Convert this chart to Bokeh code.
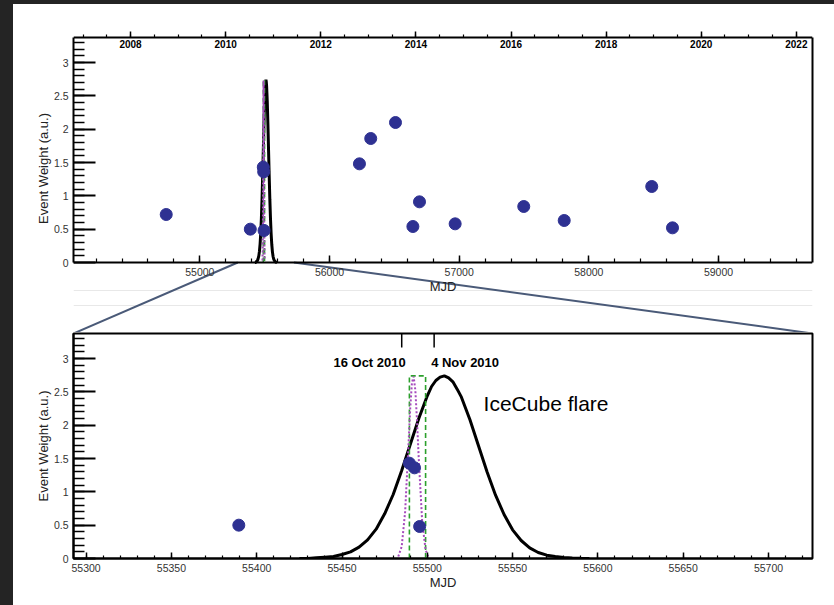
from bokeh.plotting import figure
from bokeh.models import Range1d, LinearAxis, FixedTicker, Label, Spacer
from bokeh.layouts import column, row
from bokeh.embed import file_html
from bokeh.resources import INLINE

# ---------------- data ----------------
event_mjd = [54741, 55389.5, 55489.5, 55492.5, 55495.5, 56231, 56318, 56509,
             56643, 56694, 56969, 57498, 57810, 58485, 58645]
event_weight = [0.72, 0.50, 1.43, 1.36, 0.48, 1.48, 1.86, 2.10,
                0.54, 0.91, 0.58, 0.84, 0.63, 1.14, 0.52]

flare_mjd = [55425, 55430, 55435, 55440, 55445, 55450, 55455, 55460, 55465, 55470,
             55475, 55480, 55485, 55490, 55495, 55500, 55502.5, 55505, 55507.5, 55510,
             55512.5, 55515, 55517.5, 55520, 55525, 55530, 55535, 55540, 55545, 55550,
             55555, 55560, 55565, 55570, 55575, 55580, 55585, 55590, 55595]
flare_weight = [0.00, 0.00, 0.01, 0.02, 0.03, 0.06, 0.10, 0.17, 0.28, 0.44,
                0.67, 0.96, 1.32, 1.71, 2.10, 2.44, 2.58, 2.67, 2.72, 2.74,
                2.71, 2.65, 2.54, 2.42, 2.08, 1.69, 1.30, 0.95, 0.66, 0.43,
                0.27, 0.16, 0.09, 0.05, 0.03, 0.015, 0.007, 0.003, 0.00]

dotted_mjd = [55483, 55485, 55487, 55489, 55490, 55491, 55492, 55493, 55494,
              55495, 55497, 55499, 55500.5]
dotted_weight = [0.03, 0.18, 0.70, 1.72, 2.26, 2.64, 2.73, 2.52, 2.05,
                 1.49, 0.55, 0.13, 0.03]

box_mjd = [55489.5, 55489.5, 55499, 55499]
box_weight = [0.0, 2.74, 2.74, 0.0]

date_mjd = [55485, 55504]
date_labels = ["16 Oct 2010", "4 Nov 2010"]

flare_label = "IceCube flare"
flare_label_pos = (55533, 2.32)

y_major = [0, 0.5, 1, 1.5, 2, 2.5, 3]
y_minor = [round(0.1 * i, 1) for i in range(1, 34)]
y_overrides = {0: "0", 1: "1", 2: "2", 3: "3"}

top_x_major = [55000, 56000, 57000, 58000, 59000]
top_x_minor = list(range(54200, 59800, 200))
bot_x_major = [55300, 55350, 55400, 55450, 55500, 55550, 55600, 55650, 55700]
bot_x_minor = list(range(55300, 55730, 10))

year_major = list(range(2008, 2023, 2))
year_minor = [2007 + 0.5 * i for i in range(0, 32)]

top_range = (54026, 59724.6)
bot_range = (55292.6, 55725.8)
year_range = (2006.80, 2022.34)
y_top = 3.375

# ---------------- styling ----------------
FONT = "Liberation Sans"
DARK = "#242424"
DOT_BLUE = "#2e3192"
GREEN = "#2ca02c"
MAGENTA = "#a64bbd"
LINK = "#4a5a78"

FIG_W = 821
FRAME_H = 225
PX_PER_UNIT = FRAME_H / y_top


def style_axes(p, x_major, x_minor, x_tick_in, x_minor_in):
    p.grid.visible = False
    p.background_fill_color = "white"
    p.border_fill_color = "white"
    for ax in p.yaxis:
        ax.ticker = FixedTicker(ticks=y_major, minor_ticks=y_minor)
        ax.major_label_overrides = y_overrides
        ax.bounds = (0, y_top)
        ax.major_tick_in = 22
        ax.major_tick_out = 0
        ax.minor_tick_in = 11
        ax.minor_tick_out = 0
        ax.major_tick_line_width = 2
        ax.minor_tick_line_width = 1.5
        ax.major_tick_line_color = "black"
        ax.minor_tick_line_color = "black"
        ax.axis_line_width = 2
        ax.axis_line_color = "black"
        ax.major_label_standoff = 5
        ax.major_label_text_font = FONT
        ax.major_label_text_font_size = "10.5px"
        ax.major_label_text_color = "#333333"
        ax.axis_label_text_font = FONT
        ax.axis_label_text_font_size = "13px"
        ax.axis_label_text_font_style = "normal"
        ax.axis_label_text_color = "#222222"
        ax.axis_label_standoff = 0
    for ax in p.xaxis:
        ax.ticker = FixedTicker(ticks=x_major, minor_ticks=x_minor)
        ax.major_tick_in = x_tick_in
        ax.major_tick_out = 0
        ax.minor_tick_in = x_minor_in
        ax.minor_tick_out = 0
        ax.major_tick_line_width = 1.5
        ax.minor_tick_line_width = 1.2
        ax.major_tick_line_color = "black"
        ax.minor_tick_line_color = "black"
        ax.axis_line_width = 2
        ax.axis_line_color = "black"
        ax.major_label_standoff = 5
        ax.major_label_text_font = FONT
        ax.major_label_text_font_size = "10.5px"
        ax.major_label_text_color = "#333333"
        ax.axis_label_text_font = FONT
        ax.axis_label_text_font_size = "13px"
        ax.axis_label_text_font_style = "normal"
        ax.axis_label_text_color = "#222222"
        ax.axis_label_standoff = 0


def draw_series(p):
    p.line(flare_mjd, flare_weight, line_color="black", line_width=3)
    p.line(box_mjd, box_weight, line_color=GREEN, line_width=1.6, line_dash="5 3")
    p.line(dotted_mjd, dotted_weight, line_color=MAGENTA, line_width=2, line_dash="2 2")
    p.scatter(event_mjd, event_weight, size=12, fill_color=DOT_BLUE, line_color=DOT_BLUE)


# ---------------- top panel ----------------
# canvas spans page y 4..332 and the frame fills it vertically; the box of the
# panel (weight 0 .. 3.375, page y 262 .. 37) is drawn with pinned axes so that the
# year scale labels can sit inside the box and the zoom connectors can run below it.
TOP_H = 328
y_bottom = -(332 - 262) / PX_PER_UNIT
y_canvas_top = y_top + (37 - 4) / PX_PER_UNIT
p1 = figure(width=FIG_W, height=TOP_H, output_backend="svg", toolbar_location=None,
            x_range=Range1d(*top_range), y_range=Range1d(y_bottom, y_canvas_top),
            min_border_left=60, min_border_right=22, min_border_top=0, min_border_bottom=0,
            x_axis_label="MJD", y_axis_label="Event Weight (a.u.)")
p1.outline_line_color = None
style_axes(p1, top_x_major, top_x_minor, 7, 4)
p1.xaxis.fixed_location = 0

right_edge = LinearAxis(ticker=FixedTicker(ticks=[]), bounds=(0, y_top),
                        axis_line_width=2, axis_line_color="black",
                        major_tick_in=0, major_tick_out=0, minor_tick_in=0, minor_tick_out=0)
p1.add_layout(right_edge, "right")

p1.extra_x_ranges = {"yr": Range1d(*year_range)}
yr_axis = LinearAxis(x_range_name="yr", fixed_location=y_top,
                     ticker=FixedTicker(ticks=year_major, minor_ticks=year_minor),
                     major_tick_in=6, major_tick_out=0, minor_tick_in=3, minor_tick_out=0,
                     major_tick_line_width=1.5, minor_tick_line_width=1.2,
                     major_tick_line_color="black", minor_tick_line_color="black",
                     axis_line_width=2, axis_line_color="black",
                     major_label_standoff=2, major_label_text_font=FONT,
                     major_label_text_font_size="10px", major_label_text_font_style="bold",
                     major_label_text_color="black")
p1.add_layout(yr_axis, "below")

# faint page separator lines
for sep_px in (290, 305):
    ys = -(sep_px - 262) / PX_PER_UNIT
    p1.line([top_range[0], top_range[1]], [ys, ys], line_color="#e8e8e8", line_width=1)

# zoom connectors: lower-panel range on this axis -> lower-panel frame corners
y_link_end = -(333 - 262) / PX_PER_UNIT
for xs, xe in [(bot_range[0], top_range[0]), (bot_range[1], top_range[1])]:
    p1.line([xs, xe], [0, y_link_end], line_color=LINK, line_width=2)

draw_series(p1)

# ---------------- bottom panel ----------------
BOT_H = 273
p2 = figure(width=FIG_W, height=BOT_H, output_backend="svg", toolbar_location=None,
            x_range=Range1d(*bot_range), y_range=Range1d(0, y_top),
            min_border_left=60, min_border_right=22, min_border_top=1, min_border_bottom=47,
            x_axis_label="MJD", y_axis_label="Event Weight (a.u.)")
p2.outline_line_color = "black"
p2.outline_line_width = 2
p2.outline_line_alpha = 1.0
style_axes(p2, bot_x_major, bot_x_minor, 6, 3)
draw_series(p2)

p2.ray(x=date_mjd, y=[y_top] * len(date_mjd), length=14, length_units="screen",
       angle=-90, angle_units="deg", line_color="black", line_width=1.5)
for xm, txt, align, xo in zip(date_mjd, date_labels, ["right", "left"], [4, -3]):
    p2.add_layout(Label(x=xm, y=y_top, text=txt, text_align=align, x_offset=xo,
                        y_offset=-29, text_baseline="middle", text_font=FONT,
                        text_font_size="13px", text_font_style="bold", text_color="black"))
p2.add_layout(Label(x=flare_label_pos[0], y=flare_label_pos[1], text=flare_label,
                    text_align="left", text_baseline="middle", text_font=FONT,
                    text_font_size="21px", text_color="black"))

# ---------------- page layout ----------------
top_strip = Spacer(width=834, height=4, styles={"background-color": DARK})
left_strip = Spacer(width=13, height=601, styles={"background-color": DARK})
layout = column(top_strip, row(left_strip, column(p1, p2, spacing=0), spacing=0), spacing=0)

open("out.html", "w").write(file_html(layout, INLINE))
